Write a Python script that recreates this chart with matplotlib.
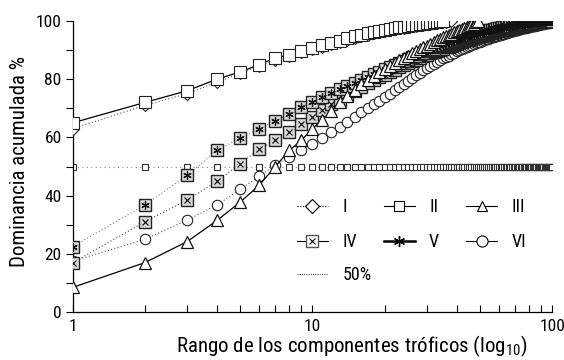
import numpy as np
import matplotlib
matplotlib.use("Agg")
import matplotlib.pyplot as plt
from matplotlib.lines import Line2D
from matplotlib.ticker import FixedLocator, NullFormatter

plt.rcParams["font.family"] = ["Roboto Condensed", "DejaVu Sans"]
plt.rcParams["mathtext.fontset"] = "custom"
plt.rcParams["mathtext.rm"] = "Roboto Condensed"
plt.rcParams["mathtext.it"] = "Roboto Condensed"

# cumulative dominance (%) by rank of trophic component
serie_I = [63, 71, 75, 79, 82, 84.5, 86.5, 88, 89.2, 90.3, 91.2, 92, 92.8, 93.5,
           94.2, 94.8, 95.3, 95.8, 96.2, 96.5, 96.8, 97.1, 97.4, 97.7, 97.9, 98.1,
           98.3, 98.5, 98.7, 98.9, 99.1, 99.3, 99.4, 99.5, 99.6, 99.7, 99.8, 100]
serie_II = [65, 72, 76, 80, 82.5, 85, 87.3, 88.3, 89.6, 90.7, 91.6, 92.4, 93.2, 94.0,
            94.7, 95.3, 95.8, 96.2, 96.6, 96.9, 97.2, 97.5, 97.8, 98.0, 98.2, 98.5,
            98.7, 98.9, 99.1, 99.2, 99.4, 99.5, 99.7, 99.8, 100]
serie_III = [8.5, 17, 24.2, 31.5, 37.8, 43.6, 50, 55.5, 59, 63, 66, 69, 72, 74.2,
             76.2, 78.2, 79.8, 81.2, 82.4, 83.5, 84.5, 85.5, 86.4, 87.2, 88, 88.8,
             89.5, 90.2, 90.9, 91.5, 92.1, 92.7, 93.3, 93.8, 94.3, 94.8, 95.2, 95.6,
             96.1, 96.5, 96.9, 97.2, 97.6, 97.9, 98.3, 98.7, 99.1, 99.5, 100]
serie_IV = [17, 31, 38.5, 45, 51, 56, 59, 62, 64.6, 67, 69.4, 71.5, 73, 74.5, 76,
            77.3, 78.5, 79.6, 80.6, 81.5, 82.4, 83.2, 84, 84.8, 85.5, 86.1, 86.7,
            87.3, 87.9, 88.4, 88.9, 89.3, 89.7, 90.1, 90.5, 90.9, 91.2, 91.5, 91.8,
            92.1, 92.4, 92.7, 93, 93.3, 93.5, 93.8, 94, 94.3, 94.5, 94.7, 94.9, 95.1,
            95.3, 95.5, 95.7, 95.9, 96.1, 96.2, 96.4, 96.5, 96.7, 96.8, 97, 97.1,
            97.3, 97.4, 97.5, 97.6, 97.8, 97.9, 98, 98.1, 98.2, 98.3, 98.4, 98.5,
            98.6, 98.7, 98.8, 98.9, 99, 99, 99.1, 99.2, 99.3, 99.3, 99.4, 99.5, 99.5,
            99.6, 99.6, 99.7, 99.7, 99.8, 99.8, 99.9, 99.9, 99.9, 100, 100]
serie_V = [22.5, 36.8, 47, 55.5, 59.8, 63, 65.6, 68, 70.4, 72, 74, 75.3, 76.5, 77.7,
           78.8, 79.8, 80.8, 81.7, 82.6, 83.4, 84.2, 84.9, 85.6, 86.3, 86.9, 87.5,
           88.1, 88.6, 89.1, 89.6, 90.1, 90.5, 90.9, 91.3, 91.7, 92.1, 92.4, 92.8,
           93.1, 93.4, 93.7, 94, 94.3, 94.5, 94.8, 95, 95.3, 95.5, 95.7, 95.9, 96.1,
           96.3, 96.5, 96.7, 96.8, 97, 97.1, 97.3, 97.4, 97.5, 97.7, 97.8, 97.9, 98,
           98.1, 98.2, 98.3, 98.4, 98.5, 98.6, 98.7, 98.8, 98.8, 98.9, 99, 99.1,
           99.1, 99.2, 99.2, 99.3, 99.3, 99.4, 99.4, 99.5, 99.5, 99.6, 99.6, 99.6,
           99.7, 99.7, 99.8, 99.8, 99.8, 99.9, 99.9, 99.9, 99.9, 100, 100, 100]
serie_VI = [17.5, 25, 31.6, 36.8, 42.2, 46.7, 50.5, 53.3, 55.5, 57.8, 59.8, 61.8,
            63.6, 65.4, 67, 68.6, 70, 71.3, 72.6, 73.8, 75, 76.2, 77.3, 78.4, 79.4,
            80.4, 81.3, 82.2, 83, 83.8, 84.5, 85.2, 85.9, 86.5, 87.1, 87.6, 88.1,
            88.6, 89.1, 89.5, 89.9, 90.3, 90.7, 91.1, 91.4, 91.7, 92, 92.3, 92.6,
            92.9, 93.2, 93.4, 93.7, 93.9, 94.1, 94.3, 94.5, 94.7, 94.9, 95.1, 95.3,
            95.5, 95.6, 95.8, 96, 96.1, 96.3, 96.4, 96.6, 96.7, 96.9, 97, 97.1, 97.3,
            97.4, 97.5, 97.6, 97.7, 97.8, 97.9, 98, 98.1, 98.2, 98.3, 98.4, 98.5,
            98.6, 98.7, 98.8, 98.9, 99, 99.1, 99.2, 99.3, 99.4, 99.5, 99.6, 99.7,
            99.8, 100]
serie_50 = [50] * 100

x_ticks = [1, 10, 100]
y_ticks = [0, 20, 40, 60, 80, 100]


def ranks(vals):
    return np.arange(1, len(vals) + 1)


fig = plt.figure(figsize=(5.64, 3.6), dpi=100)
ax = fig.add_axes([0.129, 0.133, 0.85, 0.809])

# 50% reference
ax.plot(ranks(serie_50), serie_50, color="#888888", lw=0.8, ls=(0, (1, 3)),
        marker="s", ms=4.5, mfc="white", mec="#333333", mew=0.8, zorder=2)

# VI
ax.plot(ranks(serie_VI), serie_VI, color="#555555", lw=0.8, ls=(0, (1, 2)),
        marker="o", ms=7.5, mfc="white", mec="#222222", mew=0.8, zorder=3)

# IV and V: boxed crosses
ax.plot(ranks(serie_IV), serie_IV, color="#444444", lw=0.8, ls=(0, (1, 2)),
        marker="s", ms=8, mfc="#d8d8d8", mec="#222222", mew=1.0, zorder=4)
ax.plot(ranks(serie_IV), serie_IV, ls="none", marker="x", ms=5, mec="#111111",
        mew=0.9, zorder=4)
ax.plot(ranks(serie_V), serie_V, color="#777777", lw=0.8, ls=(0, (1, 2)),
        marker="s", ms=8, mfc="#d8d8d8", mec="#222222", mew=1.0, zorder=4)
ax.plot(ranks(serie_V), serie_V, ls="none", marker=(6, 2, 0), ms=6, mec="#111111",
        mew=0.9, zorder=4)

# III
ax.plot(ranks(serie_III), serie_III, color="black", lw=0.9,
        marker="^", ms=8, mfc="white", mec="#111111", mew=0.9, zorder=5)

# I and II
ax.plot(ranks(serie_I), serie_I, color="#555555", lw=0.8, ls=(0, (1, 2)),
        marker="D", ms=6.5, mfc="white", mec="#222222", mew=0.8, zorder=6)
ax.plot(ranks(serie_II), serie_II, color="black", lw=0.9,
        marker="s", ms=8.5, mfc="white", mec="#222222", mew=0.8, zorder=7)

ax.set_xscale("log")
ax.set_xlim(1, 100)
ax.set_ylim(0, 100)
ax.spines["top"].set_visible(False)
ax.spines["right"].set_visible(False)
for sp in ("left", "bottom"):
    ax.spines[sp].set_linewidth(0.9)

ax.set_xticks(x_ticks)
ax.set_xticklabels([str(t) for t in x_ticks])
ax.xaxis.set_minor_locator(FixedLocator([a * b for b in (1, 10) for a in range(2, 10)]))
ax.xaxis.set_minor_formatter(NullFormatter())
ax.tick_params(axis="x", which="both", direction="in", length=5, width=0.8,
               labelsize=12.5, pad=5)
ax.set_yticks(y_ticks)
ax.set_yticks([10, 30, 50, 70, 90], minor=True)
ax.tick_params(axis="y", which="both", direction="out", length=5, width=0.8,
               labelsize=12.5, pad=3)

ax.set_ylabel("Dominancia acumulada %", fontsize=15)
ax.yaxis.set_label_coords(-0.092, 0.517)
ax.set_xlabel("Rango de los componentes tróficos (log$_{10}$)", fontsize=15)
ax.xaxis.set_label_coords(0.582, -0.074)

h_I = Line2D([], [], color="black", lw=0.8, ls=(0, (1, 1.5)), marker="D", ms=7,
             mfc="white", mec="black", mew=0.8)
h_II = Line2D([], [], color="black", lw=0.8, marker="s", ms=7.5, mfc="white",
              mec="black", mew=0.8)
h_III = Line2D([], [], color="black", lw=0.8, marker="^", ms=7.5, mfc="white",
               mec="black", mew=0.8)
h_IV = (Line2D([], [], color="black", lw=0.8, marker="s", ms=8, mfc="white",
               mec="#555555", mew=1.0),
        Line2D([], [], ls="none", marker="x", ms=4.5, mec="black", mew=0.8))
h_V = Line2D([], [], color="black", lw=1.8, marker=(6, 2, 0), ms=8, mec="black",
             mew=1.0)
h_VI = Line2D([], [], color="black", lw=0.8, marker="o", ms=8, mfc="white",
              mec="black", mew=0.8)
h_50 = Line2D([], [], color="#555555", lw=0.8, ls=(0, (1, 1)))

leg = ax.legend([h_I, h_IV, h_II, h_V, h_III, h_VI],
                ["I", "IV", "II", "V", "III", "VI"], ncol=3, frameon=False,
                fontsize=13, loc="upper left", bbox_to_anchor=(0.468, 0.392),
                borderaxespad=0, borderpad=0, handlelength=1.7,
                handletextpad=0.8, columnspacing=1.5, labelspacing=0.95)
ax.add_artist(leg)
ax.legend([h_50], ["50%"], frameon=False, fontsize=13, loc="upper left",
          bbox_to_anchor=(0.468, 0.158), borderaxespad=0, borderpad=0,
          handlelength=1.7, handletextpad=0.8)

fig.savefig("out.png", dpi=100)
